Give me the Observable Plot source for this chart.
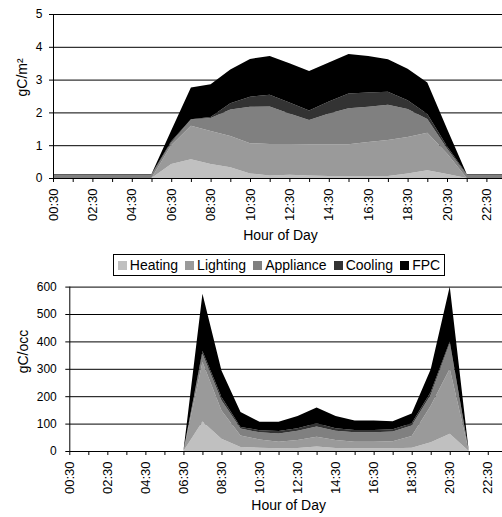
<!DOCTYPE html>
<html>
<head>
<meta charset="utf-8">
<script src="https://cdn.jsdelivr.net/npm/d3@7"></script>
<script src="https://cdn.jsdelivr.net/npm/@observablehq/plot@0.6"></script>
<style>
  html, body { margin: 0; padding: 0; background: #fff; overflow: hidden; width: 502px; height: 517px; }
  body { font-family: "Liberation Sans", Arial, sans-serif; color: #000; }
  #legend { margin-left: 113px; width: 332px; height: 22px; box-sizing: border-box; border: 1px solid #000;
            display: flex; align-items: center; justify-content: center; gap: 7px; font-size: 14px; margin-bottom: 4px; }
  #legend .item { display: flex; align-items: center; gap: 3px; }
  #legend .sw { width: 9px; height: 9px; display: inline-block; }
  svg { display: block; }
</style>
</head>
<body>
<div id="top"></div>
<div id="legend"></div>
<div id="bottom"></div>
<script>
const hours = ["00:30","01:30","02:30","03:30","04:30","05:30","06:30","07:30","08:30","09:30","10:30","11:30",
               "12:30","13:30","14:30","15:30","16:30","17:30","18:30","19:30","20:30","21:30","22:30","23:30"];
const series = ["Heating", "Lighting", "Appliance", "Cooling", "FPC"];
const colors = ["#c0c0c0", "#9a9a9a", "#808080", "#333333", "#000000"];
const yTicksTop = [0, 1, 2, 3, 4, 5];
const yTicksBottom = [0, 100, 200, 300, 400, 500, 600];

// gC/m2 per hour
const heatingM2   = [0,0,0,0,0,0,0.43,0.57,0.43,0.33,0.14,0.08,0.10,0.08,0.06,0.06,0.06,0.06,0.14,0.24,0.12,0,0,0];
const lightingM2  = [0,0,0,0,0,0,0.57,1.02,1.00,0.95,0.92,0.96,0.94,0.95,0.97,0.97,1.04,1.10,1.11,1.14,0.63,0,0,0];
const applianceM2 = [0.1,0.1,0.1,0.1,0.1,0.1,0.08,0.19,0.40,0.81,1.11,1.14,0.93,0.74,0.94,1.10,1.07,1.07,0.85,0.42,0.15,0.1,0.1,0.1];
const coolingM2   = [0.02,0.02,0.02,0.02,0.02,0.02,0.04,0.01,0.03,0.19,0.31,0.36,0.33,0.29,0.36,0.45,0.44,0.40,0.27,0.15,0.07,0.02,0.02,0.02];
const fpcM2       = [0,0,0,0,0,0,0.33,0.97,1.00,1.03,1.15,1.18,1.20,1.20,1.19,1.20,1.11,0.99,0.96,0.96,0.53,0,0,0];

// gC/occ per hour
const heatingOcc   = [0,0,0,0,0,0,0,108,45,15,12,10,11,16,11,10,10,10,12,32,63,0,0,0];
const lightingOcc  = [0,0,0,0,0,0,0,217,103,42,30,24,29,36,29,24,24,26,43,133,237,0,0,0];
const applianceOcc = [0,0,0,0,0,0,0,30,37,25,26,30,34,37,34,34,34,35,38,40,93,0,0,0];
const coolingOcc   = [0,0,0,0,0,0,0,10,12,6,8,9,9,12,9,9,9,8,8,10,7,0,0,0];
const fpcOcc       = [0,0,0,0,0,0,0,209,97,54,31,34,45,58,45,34,34,30,36,83,200,0,0,0];

function toLong(arrays) {
  const rows = [];
  series.forEach((s, k) => arrays[k].forEach((v, i) => rows.push({i, s, v})));
  return rows;
}
const topData = toLong([heatingM2, lightingM2, applianceM2, coolingM2, fpcM2]);
const bottomData = toLong([heatingOcc, lightingOcc, applianceOcc, coolingOcc, fpcOcc]);

const font = "Liberation Sans, Arial, sans-serif";
const idx = d3.range(hours.length);

function chart({data, height, left, right, y0, y1, yMax, yTicks, ylabel, ylabelDx, ylabelDy, ytickPad, titleDy}) {
  return Plot.plot({
    width: 502,
    height,
    marginLeft: left,
    marginRight: 0,
    marginTop: y1,
    marginBottom: height - y0,
    style: {fontFamily: font, color: "#000", background: "#fff", overflow: "hidden"},
    x: {domain: [0, 23], range: [left, right]},
    y: {domain: [0, yMax], range: [y0, y1]},
    color: {domain: series, range: colors},
    marks: [
      Plot.ruleY(yTicks.slice(1), {stroke: "#000", strokeWidth: 1}),
      Plot.areaY(data, {x: "i", y: "v", z: "s", fill: "s", curve: "linear"}),
      Plot.ruleX([0], {stroke: "#000"}),
      Plot.ruleY([0], {stroke: "#000"}),
      Plot.axisY(yTicks, {tickSize: 4, tickPadding: ytickPad, fontSize: 12, label: null}),
      Plot.axisX(idx, {tickSize: 4, tickPadding: 6, tickRotate: -90, fontSize: 13, label: null,
                       tickFormat: d => d % 2 === 0 ? hours[d] : ""}),
      Plot.text([ylabel], {frameAnchor: "left", dx: ylabelDx, dy: ylabelDy, rotate: -90, fontSize: 14}),
      Plot.text(["Hour of Day"], {frameAnchor: "bottom", dy: titleDy, dx: 2.5, fontSize: 14})
    ]
  });
}

document.getElementById("top").appendChild(chart({
  data: topData, height: 254, left: 53, right: 506.1, y0: 178, y1: 14, yMax: 5,
  yTicks: yTicksTop, ylabel: "gC/m²", ylabelDx: -31, ylabelDy: 0, ytickPad: 7, titleDy: 61
}));

const legend = document.getElementById("legend");
series.forEach((s, k) => {
  const item = document.createElement("span");
  item.className = "item";
  const sw = document.createElement("span");
  sw.className = "sw";
  sw.style.background = colors[k];
  const t = document.createElement("span");
  t.textContent = s;
  item.appendChild(sw);
  item.appendChild(t);
  legend.appendChild(item);
});

document.getElementById("bottom").appendChild(chart({
  data: bottomData, height: 237, left: 69.3, right: 506.8, y0: 171, y1: 6.6, yMax: 600,
  yTicks: yTicksBottom, ylabel: "gC/occ", ylabelDx: -46, ylabelDy: 4, ytickPad: 9, titleDy: 58
}));
</script>
</body>
</html>
